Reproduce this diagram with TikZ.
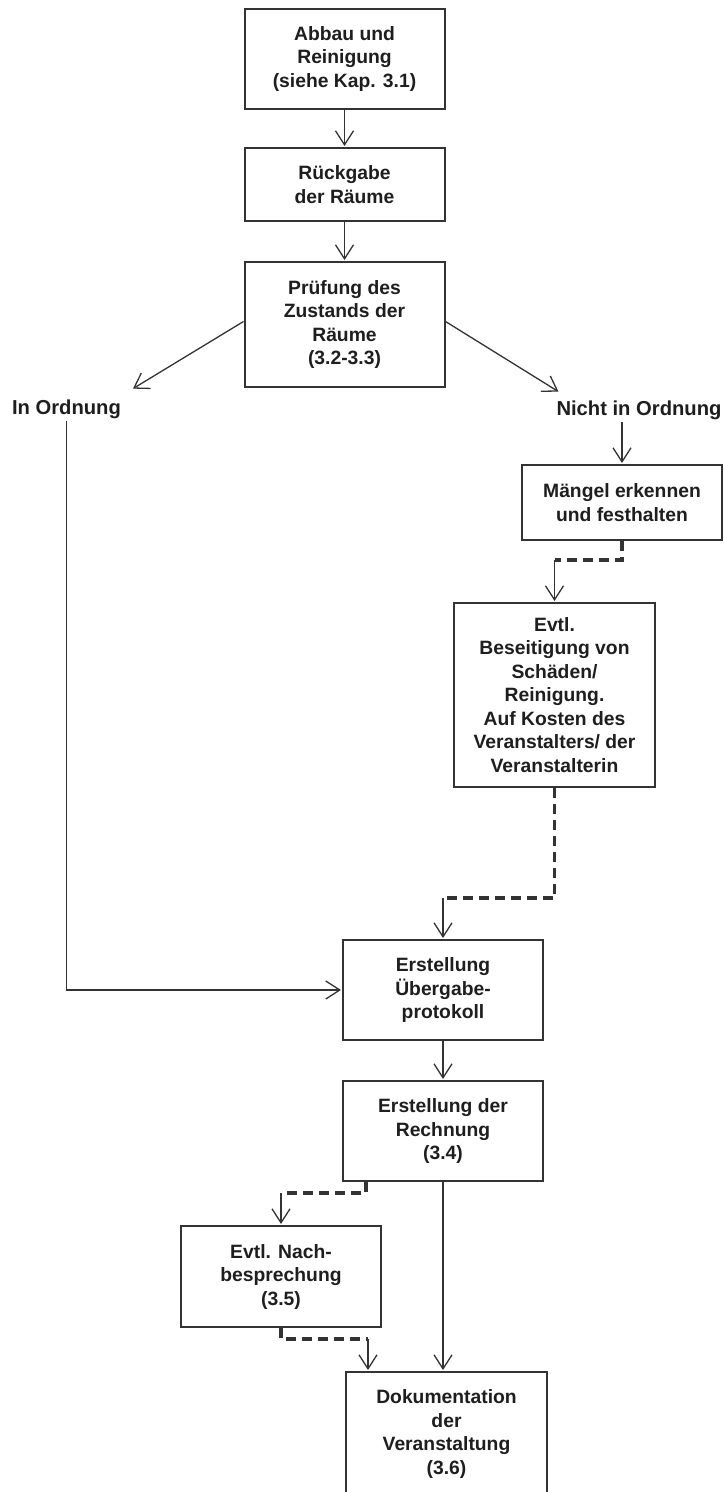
\documentclass[tikz,border=0pt]{standalone}
\usepackage{fontspec}
\setmainfont{Liberation Sans}
\usetikzlibrary{arrows.meta}
\definecolor{linegray}{HTML}{333333}
\definecolor{textgray}{HTML}{1E1E1E}
\tikzset{
  box/.style={draw=linegray,line width=2bp,minimum width=200bp,align=center,text=textgray,inner sep=2bp,font=\bfseries\fontsize{19.3bp}{23.5bp}\selectfont},
  lbl/.style={text=textgray,inner sep=3bp,font=\bfseries\fontsize{20.2bp}{24bp}\selectfont},
  arr/.style={draw=linegray,line width=1.3bp,-{Straight Barb[length=14bp,width=18bp]},shorten >=1bp},
  dashline/.style={draw=linegray,line width=3.5bp,dash pattern=on 10bp off 6bp}
}
\begin{document}
\begin{tikzpicture}[x=1bp,y=-1bp]
\useasboundingbox (0,0) rectangle (724,1492);
\fill[white] (0,0) rectangle (724,1492);
\node[box,minimum height=100bp] (abbau) at (344.5,59) {Abbau und\\Reinigung\\(siehe Kap. 3.1)};
\node[box,minimum height=73bp] (rueck) at (344.5,184.5) {Rückgabe\\der Räume};
\node[box,minimum height=125bp] (pruef) at (344.5,324.5) {Prüfung des\\Zustands der\\Räume\\(3.2-3.3)};
\node[lbl,anchor=base] (inok) at (66.5,414) {In Ordnung};
\node[lbl,anchor=base] (nichtok) at (639,415) {Nicht in Ordnung};
\node[box,minimum height=75bp] (maengel) at (622,502.5) {Mängel erkennen\\und festhalten};
\node[box,minimum width=201bp,minimum height=184bp] (beseit) at (554.5,695) {Evtl.\\Beseitigung von\\Schäden/\\Reinigung.\\Auf Kosten des\\Veranstalters/ der\\Veranstalterin};
\node[box,minimum height=100bp] (uebergabe) at (443,990) {Erstellung\\Übergabe-\\protokoll};
\node[box,minimum height=100bp] (rechnung) at (443,1131) {Erstellung der\\Rechnung\\(3.4)};
\node[box,minimum height=101bp] (nachbespr) at (281,1276.5) {Evtl. Nach-\\besprechung\\(3.5)};
\node[box,minimum width=201bp,minimum height=124bp] (doku) at (446.5,1434) {Dokumentation\\der\\Veranstaltung\\(3.6)};
\draw[arr] (abbau) -- (rueck);
\draw[arr] (rueck) -- (pruef);
\draw[arr] ([yshift=3bp]pruef.west) -- ([xshift=8bp,yshift=7bp]inok.north east);
\draw[arr] ([yshift=3bp]pruef.east) -- ([xshift=6bp,yshift=5bp]nichtok.north west);
\draw[arr] (inok.south) |- (uebergabe.west);
\draw[arr] (maengel.north |- nichtok.south) -- (maengel.north);
\coordinate (m1) at (554.5,560);
\draw[dashline] (maengel.south) |- (m1);
\draw[arr] (m1) -- (beseit.north);
\coordinate (b1) at (443,898);
\draw[dashline] (beseit.south) |- (b1);
\draw[arr] (b1) -- (uebergabe.north);
\draw[arr] (uebergabe) -- (rechnung);
\coordinate (r1) at (281,1193);
\draw[dashline] ([xshift=24bp]rechnung.south west) |- (r1);
\draw[arr] (r1) -- (nachbespr.north);
\coordinate (n1) at (368,1339);
\draw[dashline] (nachbespr.south) |- (n1);
\draw[arr] (n1) -- (n1 |- doku.north);
\draw[arr] (rechnung.south) -- (rechnung.south |- doku.north);
\end{tikzpicture}
\end{document}
